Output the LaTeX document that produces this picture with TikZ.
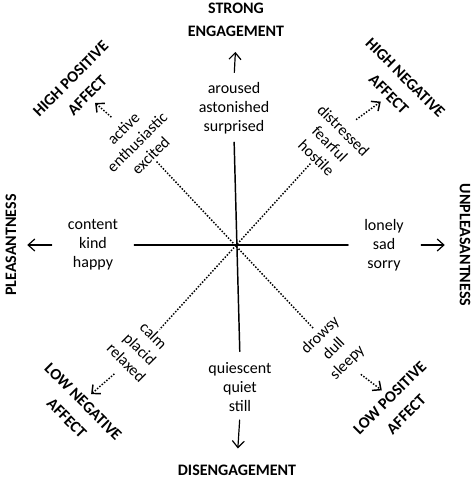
\documentclass[tikz,border=0pt]{standalone}
\usepackage{fontspec}
\setmainfont{Carlito}
\usetikzlibrary{arrows.meta}
\tikzset{
  words/.style={align=center, inner sep=2pt,
    font=\fontsize{12}{14.4}\selectfont},
  pole/.style={align=center, inner sep=2pt,
    font=\fontsize{12}{17.5}\selectfont\bfseries},
  axisline/.style={line width=1.1pt},
  dots/.style={line width=1.1pt, line cap=butt, dash pattern=on 1.1pt off 1.2pt},
  diagline/.style={dots},
  pointer/.style={-{Straight Barb[length=5pt,width=9pt]}, line width=0.9pt},
  dpointer/.style={pointer, dots}
}
\begin{document}
\begin{tikzpicture}[x=0.75pt, y=-0.75pt, line cap=round, line join=round]
  % pixel coordinates of the 476x480 picture, y grows downwards
  \path[use as bounding box] (0,0) rectangle (476,480);
  \node[pole] (strong) at (236,20) {STRONG\\ENGAGEMENT};
  \node[pole] (disen) at (237,470) {DISENGAGEMENT};
  \node[pole, rotate=90] (pleas) at (11,245) {PLEASANTNESS};
  \node[pole, rotate=-90] (unpleas) at (465,245) {UNPLEASANTNESS};
  \node[pole, rotate=45] (hpa) at (79,87) {HIGH POSITIVE\\AFFECT};
  \node[pole, rotate=-45] (hna) at (397,86) {HIGH NEGATIVE\\AFFECT};
  \node[pole, rotate=-45] (lna) at (75,410) {LOW NEGATIVE\\AFFECT};
  \node[pole, rotate=45] (lpa) at (398,406) {LOW POSITIVE\\AFFECT};
  \node[words] (topw) at (234,108) {aroused\\astonished\\surprised};
  \node[words] (botw) at (240,387) {quiescent\\quiet\\still};
  \node[words] (leftw) at (93,245) {content\\kind\\happy};
  \node[words] (rightw) at (384,245) {lonely\\sad\\sorry};
  \node[words, rotate=45] (nw) at (137,142) {active\\enthusiastic\\excited};
  \node[words, rotate=-45] (ne) at (330,144) {distressed\\fearful\\hostile};
  \node[words, rotate=-45] (sw) at (140,349) {calm\\placid\\relaxed};
  \node[words, rotate=45] (se) at (334,349) {drowsy\\dull\\sleepy};
  % axes
  \draw[axisline, shorten <=4pt, shorten >=6pt] (topw.south) -- (botw.north);
  \draw[axisline, shorten <=10pt, shorten >=10pt] (leftw.east) -- (rightw.west);
  \draw[diagline] (nw.south) -- (se.north);
  \draw[diagline] (ne.south) -- (sw.north);
  % outward arrows
  \draw[pointer, shorten <=5pt, shorten >=9pt] (topw.north) -- (strong.south);
  \draw[pointer, shorten <=4pt, shorten >=10pt] (botw.south) -- (disen.north);
  \draw[pointer, shorten <=10pt, shorten >=6pt] (leftw.west) -- (pleas.south);
  \draw[pointer, shorten <=11pt, shorten >=9pt] (rightw.east) -- (unpleas.south);
  \draw[dpointer, shorten <=6pt, shorten >=2pt] (nw.north) -- (hpa.south);
  \draw[dpointer, shorten <=6pt, shorten >=2pt] (ne.north) -- (hna.south);
  \draw[dpointer, shorten <=6pt, shorten >=2pt] (sw.south) -- (lna.north);
  \draw[dpointer, shorten <=6pt, shorten >=2pt] (se.south) -- (lpa.north);
\end{tikzpicture}
\end{document}
